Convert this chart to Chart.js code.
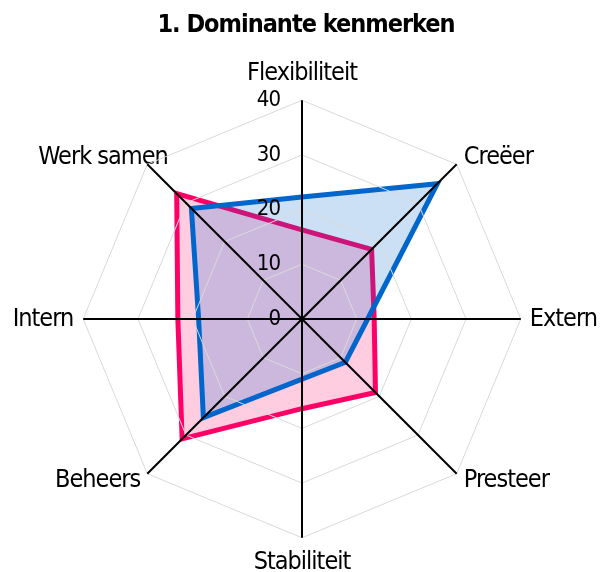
<!DOCTYPE html>
<html>
<head>
<meta charset="utf-8">
<script src="https://cdn.jsdelivr.net/npm/chart.js@4/dist/chart.umd.min.js"></script>
<style>
  html, body { margin: 0; padding: 0; background: #fff; }
  #wrap { width: 600px; height: 572px; }
</style>
</head>
<body>
<div id="wrap"><canvas id="c" width="600" height="572"></canvas></div>
<script>
const categories = ['Flexibiliteit', 'Creëer', 'Extern', 'Presteer', 'Stabiliteit', 'Beheers', 'Intern', 'Werk samen'];
const seriesBlue = [22.3, 35, 12, 11.2, 11, 25.5, 18.9, 28.6];
const seriesPink = [16.3, 18, 13.2, 19, 16.4, 31, 22.7, 32.4];
const tickValues = [0, 10, 20, 30, 40];
const labelPadding = [27, 10, 9, 10, 25, 10, 10, -29];
const labelLineHeight = [0.001, 0.001, 0.001, 0.001, 0.001, 0.001, 0.001, 2.16];

const FONT = '"DejaVu Sans Condensed", "DejaVu Sans", sans-serif';

const spacingPlugin = {
  id: 'spacing',
  beforeLayout(chart) { chart.ctx.letterSpacing = '-1px'; },
  beforeDraw(chart) { chart.ctx.letterSpacing = '-1px'; }
};

const tickLabelPlugin = {
  id: 'tickLabelsLeft',
  afterDraw(chart) {
    const s = chart.scales.r;
    const ctx = chart.ctx;
    ctx.save();
    ctx.letterSpacing = '-1px';
    ctx.font = '22px ' + FONT;
    ctx.fillStyle = '#000';
    ctx.textAlign = 'right';
    ctx.textBaseline = 'middle';
    s.ticks.forEach(t => {
      const d = s.getDistanceFromCenterForValue(t.value);
      ctx.fillText(String(t.value), s.xCenter - 22, s.yCenter - d);
    });
    ctx.restore();
  }
};

new Chart(document.getElementById('c'), {
  type: 'radar',
  data: {
    labels: categories,
    datasets: [
      {
        label: 'Blauw',
        data: seriesBlue,
        borderColor: '#0066CC',
        backgroundColor: 'rgba(0,102,204,0.2)',
        borderWidth: 5,
        pointRadius: 0,
        fill: true
      },
      {
        label: 'Roze',
        data: seriesPink,
        borderColor: '#FF0066',
        backgroundColor: 'rgba(255,0,102,0.2)',
        borderWidth: 5,
        pointRadius: 0,
        fill: true
      }
    ]
  },
  options: {
    responsive: false,
    animation: false,
    layout: { padding: { left: 10, right: -2, top: 0, bottom: 0 } },
    plugins: {
      legend: { display: false },
      tooltip: { enabled: false },
      title: {
        display: true,
        text: '1. Dominante kenmerken',
        color: '#000',
        font: { family: FONT, size: 25, weight: 'bold', lineHeight: 1.2 },
        padding: { top: 10, bottom: 24 }
      }
    },
    scales: {
      r: {
        min: 0,
        max: 40,
        beginAtZero: true,
        afterBuildTicks(scale) { scale.ticks = tickValues.map(v => ({ value: v })); },
        ticks: { display: false, stepSize: 10, z: 1 },
        grid: { color: '#d9d9d9', lineWidth: 1, circular: false, z: 1 },
        angleLines: { color: '#000', lineWidth: 2 },
        pointLabels: {
          color: '#000',
          font: (ctx) => ({ family: FONT, size: 25, lineHeight: labelLineHeight[ctx.index] }),
          padding: (ctx) => labelPadding[ctx.index]
        }
      }
    }
  },
  plugins: [spacingPlugin, tickLabelPlugin]
});
</script>
</body>
</html>
